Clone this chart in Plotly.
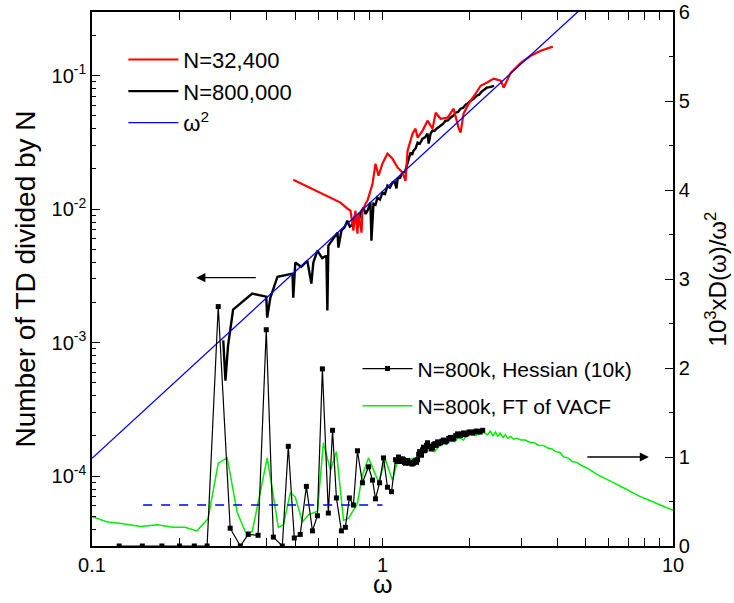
import plotly.graph_objects as go

# ---- N = 800,000 (left axis) ----
omega_800k = [0.283, 0.288, 0.294, 0.306, 0.356, 0.398, 0.401, 0.411, 0.435, 0.462,
              0.490, 0.493, 0.501, 0.525, 0.551, 0.569, 0.578, 0.597, 0.620, 0.641,
              0.646, 0.651, 0.675, 0.700, 0.705, 0.722, 0.740, 0.757, 0.772, 0.788,
              0.807, 0.820, 0.840, 0.860, 0.875, 0.888, 0.909, 0.916, 0.931, 0.946,
              0.961, 0.980, 1.000, 1.020, 1.040, 1.060, 1.082, 1.100, 1.117, 1.127,
              1.150, 1.172, 1.195, 1.220, 1.249, 1.265, 1.279, 1.300, 1.321, 1.345,
              1.374, 1.400, 1.429, 1.442, 1.465, 1.487, 1.510, 1.535, 1.560, 1.585,
              1.615, 1.648, 1.680, 1.714, 1.750, 1.785, 1.820, 1.857, 1.895, 1.932,
              1.970, 2.010, 2.060, 2.110, 2.150, 2.194, 2.240, 2.285, 2.340, 2.420]
td_800k = [1.04e-3, 5.2e-4, 9.5e-4, 1.77e-3, 2.33e-3, 2.21e-3, 1.54e-3, 2.17e-3, 3.12e-3, 3.20e-3,
           3.29e-3, 2.17e-3, 3.98e-3, 3.70e-3, 4.11e-3, 2.77e-3, 3.98e-3, 4.89e-3, 4.30e-3, 4.48e-3,
           1.74e-3, 5.33e-3, 6.00e-3, 6.67e-3, 5.15e-3, 6.90e-3, 7.30e-3, 8.20e-3, 7.40e-3, 7.66e-3,
           9.25e-3, 7.26e-3, 9.41e-3, 1.03e-2, 9.20e-3, 9.75e-3, 1.12e-2, 5.81e-3, 1.10e-2, 1.08e-2,
           1.22e-2, 1.18e-2, 1.33e-2, 1.30e-2, 1.50e-2, 1.45e-2, 1.58e-2, 1.62e-2, 1.43e-2, 1.69e-2,
           1.72e-2, 1.88e-2, 1.90e-2, 2.19e-2, 2.65e-2, 2.55e-2, 2.74e-2, 2.85e-2, 3.15e-2, 3.10e-2,
           3.38e-2, 3.45e-2, 3.68e-2, 3.10e-2, 3.70e-2, 3.88e-2, 3.85e-2, 4.01e-2, 4.10e-2, 4.22e-2,
           4.35e-2, 4.60e-2, 4.62e-2, 4.85e-2, 5.00e-2, 5.28e-2, 5.35e-2, 5.66e-2, 5.75e-2, 6.07e-2,
           6.20e-2, 6.50e-2, 6.70e-2, 7.08e-2, 7.20e-2, 7.59e-2, 7.80e-2, 8.13e-2, 8.20e-2, 8.40e-2]

# ---- N = 32,400 (left axis) ----
omega_32k = [0.493, 0.717, 0.757, 0.776, 0.794, 0.807, 0.820, 0.826, 0.847, 0.853,
             0.874, 0.888, 0.924, 0.946, 0.969, 1.000, 1.040, 1.082, 1.127, 1.172,
             1.200, 1.220, 1.269, 1.299, 1.321, 1.374, 1.429, 1.487, 1.524, 1.585,
             1.675, 1.757, 1.828, 1.857, 1.901, 1.981, 2.080, 2.177, 2.290, 2.413,
             2.553, 2.612, 2.762, 2.992, 3.237, 3.506, 3.857]
td_32k = [1.66e-2, 1.12e-2, 1.01e-2, 9.75e-3, 6.90e-3, 9.75e-3, 6.55e-3, 9.25e-3, 6.67e-3, 9.75e-3,
          1.10e-2, 1.16e-2, 1.55e-2, 2.19e-2, 1.78e-2, 2.20e-2, 2.61e-2, 2.39e-2, 2.05e-2, 1.88e-2,
          1.63e-2, 2.74e-2, 3.68e-2, 4.01e-2, 3.44e-2, 3.88e-2, 4.60e-2, 4.01e-2, 5.28e-2, 4.76e-2,
          4.85e-2, 5.66e-2, 4.07e-2, 3.74e-2, 5.19e-2, 6.17e-2, 7.20e-2, 8.41e-2, 8.90e-2, 9.50e-2,
          9.18e-2, 8.13e-2, 0.105, 0.125, 0.141, 0.154, 0.165]

# ---- omega^2 reference line (left axis) ----
omega_sq = [0.1, 6.0]
td_sq = [1.36e-4, 0.49]

# ---- N = 800k, Hessian (10k), right axis ----
omega_hess = [0.124, 0.149, 0.174, 0.200, 0.225, 0.249, 0.272, 0.299, 0.324, 0.345,
              0.373, 0.398, 0.421, 0.452, 0.474, 0.497, 0.521, 0.547, 0.574, 0.597,
              0.621, 0.651, 0.673, 0.694, 0.722, 0.745, 0.769, 0.794, 0.820, 0.853,
              0.895, 0.924, 0.946, 0.977, 1.008, 1.040, 1.074, 1.109, 1.122, 1.135,
              1.148, 1.160, 1.170, 1.181, 1.190, 1.200, 1.210, 1.220, 1.235, 1.249,
              1.264, 1.279, 1.290, 1.300, 1.310, 1.321, 1.332, 1.342, 1.352, 1.362,
              1.373, 1.384, 1.395, 1.405, 1.417, 1.429, 1.442, 1.455, 1.470, 1.487,
              1.500, 1.515, 1.530, 1.548, 1.566, 1.585, 1.604, 1.623, 1.644, 1.665,
              1.690, 1.714, 1.737, 1.760, 1.786, 1.813, 1.834, 1.855, 1.878, 1.901,
              1.928, 1.955, 1.982, 2.010, 2.040, 2.070, 2.098, 2.126, 2.170, 2.212]
d_hess = [0.0, 0.0, 0.0, 0.0, 0.0, 0.0, 2.69, 0.20, 0.0, 0.13,
          0.12, 2.43, 0.10, 0.0, 1.12, 0.09, 0.13, 0.67, 0.17, 0.34,
          1.99, 0.37, 1.30, 0.54, 0.17, 0.21, 0.54, 0.46, 1.07, 0.71,
          0.89, 0.74, 0.53, 0.71, 0.99, 0.66, 0.61, 0.97, 0.95, 1.00,
          0.96, 0.95, 0.98, 0.97, 0.94, 0.93, 0.96, 0.96, 0.93, 0.94,
          0.92, 0.93, 0.95, 0.96, 0.94, 0.97, 1.03, 1.06, 1.04, 1.02,
          1.08, 1.11, 1.07, 1.08, 1.13, 1.16, 1.12, 1.12, 1.09, 1.10,
          1.14, 1.15, 1.13, 1.17, 1.15, 1.16, 1.18, 1.19, 1.17, 1.18,
          1.21, 1.22, 1.20, 1.21, 1.24, 1.26, 1.24, 1.24, 1.26, 1.27,
          1.25, 1.26, 1.28, 1.28, 1.27, 1.28, 1.29, 1.29, 1.28, 1.30]

# ---- N = 800k, FT of VACF, right axis ----
omega_vacf = [0.100, 0.113, 0.128, 0.147, 0.168, 0.190, 0.209, 0.230, 0.251, 0.272,
              0.292, 0.316, 0.337, 0.356, 0.401, 0.438, 0.456, 0.482, 0.501, 0.530,
              0.556, 0.597, 0.626, 0.662, 0.694, 0.734, 0.764, 0.820, 0.853, 0.895,
              0.969, 1.024, 1.082, 1.135, 1.200, 1.331, 1.406, 1.465, 1.511, 1.610,
              1.660, 1.714, 1.770, 1.828, 1.900, 1.964, 2.090, 2.212, 2.302, 2.350,
              2.400, 2.450, 2.491, 2.540, 2.600, 2.650, 2.700, 2.760, 2.830, 2.910,
              3.000, 3.100, 3.237, 3.330, 3.450, 3.580, 3.707, 3.830, 3.950, 4.080,
              4.208, 4.350, 4.500, 4.650, 4.816, 5.150, 5.508, 5.850, 6.264, 6.700,
              7.165, 7.650, 8.198, 8.750, 9.311, 10.0]
d_vacf = [0.33, 0.27, 0.25, 0.22, 0.24, 0.21, 0.21, 0.17, 0.31, 0.93,
          0.99, 0.38, 0.16, 0.16, 0.99, 0.21, 0.24, 0.60, 0.55, 0.27,
          0.35, 0.39, 1.16, 0.85, 1.06, 0.29, 0.31, 0.48, 0.80, 0.99,
          0.72, 0.97, 0.74, 1.00, 0.96, 1.00, 1.16, 1.08, 1.06, 1.17,
          1.14, 1.20, 1.17, 1.22, 1.19, 1.26, 1.24, 1.28, 1.25, 1.29,
          1.24, 1.28, 1.23, 1.27, 1.22, 1.25, 1.21, 1.23, 1.20, 1.21,
          1.19, 1.19, 1.16, 1.16, 1.13, 1.13, 1.10, 1.09, 1.06, 1.05,
          1.00, 0.99, 0.95, 0.94, 0.91, 0.86, 0.80, 0.76, 0.71, 0.66,
          0.61, 0.56, 0.52, 0.48, 0.44, 0.40]

# ---- dashed level on the right axis ----
omega_level = [0.15, 1.0]
d_level = [0.46, 0.46]

FONT = "Arial, Liberation Sans, sans-serif"

fig = go.Figure()

fig.add_trace(go.Scatter(x=omega_vacf, y=d_vacf, yaxis="y2", mode="lines",
                         line=dict(color="#00ee00", width=1.5),
                         name="N=800k, FT of VACF", legend="legend2",
                         legendrank=2, legendgroup="g5"))
fig.add_trace(go.Scatter(x=omega_hess, y=d_hess, yaxis="y2", mode="lines+markers",
                         line=dict(color="black", width=1.2),
                         marker=dict(symbol="square", size=5, color="black"),
                         name="N=800k, Hessian (10k)", legend="legend2",
                         legendrank=1, legendgroup="g4"))
fig.add_trace(go.Scatter(x=omega_level, y=d_level, yaxis="y2", mode="lines",
                         line=dict(color="#0000ee", width=1.5, dash="dash"),
                         showlegend=False))
fig.add_trace(go.Scatter(x=omega_800k, y=td_800k, mode="lines",
                         line=dict(color="black", width=2.4),
                         name="N=800,000", legendrank=2, legendgroup="g2"))
fig.add_trace(go.Scatter(x=omega_32k, y=td_32k, mode="lines",
                         line=dict(color="#ff0000", width=2.2),
                         name="N=32,400", legendrank=1, legendgroup="g1"))
fig.add_trace(go.Scatter(x=omega_sq, y=td_sq, mode="lines",
                         line=dict(color="#0000ee", width=1.3),
                         name="ω<sup>2</sup>", legendrank=3, legendgroup="g3"))

# minor tick positions (2..9 within each decade)
x_minor = [m * 10.0 ** e for e in (-1, 0) for m in range(2, 10)]
y_minor = [m * 10.0 ** e for e in (-5, -4, -3, -2, -1) for m in range(2, 10)]

axis_common = dict(showline=True, linecolor="black", linewidth=1.5,
                   ticks="inside", ticklen=8, tickwidth=1.3, tickcolor="black",
                   showgrid=False, zeroline=False, automargin=False,
                   tickfont=dict(family=FONT, size=20, color="black"))

fig.update_layout(
    width=734, height=603,
    margin=dict(l=92, r=61, t=12, b=57),
    paper_bgcolor="white", plot_bgcolor="white",
    font=dict(family=FONT, color="black"),
    xaxis=dict(type="log", range=[-1, 1], tickmode="array",
               tickvals=[0.1, 1, 10], ticktext=["0.1", "1", "10"],
               mirror="allticks",
               minor=dict(tickmode="array", tickvals=x_minor, ticks="inside",
                          ticklen=4, tickwidth=1.2, tickcolor="black", showgrid=False),
               **axis_common),
    yaxis=dict(type="log", range=[-4.523, -0.523], tickmode="array",
               tickvals=[1e-4, 1e-3, 1e-2, 1e-1],
               ticktext=["10<sup>-4</sup>", "10<sup>-3</sup>", "10<sup>-2</sup>", "10<sup>-1</sup>"],
               minor=dict(tickmode="array", tickvals=y_minor, ticks="inside",
                          ticklen=4, tickwidth=1.2, tickcolor="black", showgrid=False),
               title=dict(text="Number of TD divided by N",
                          font=dict(family=FONT, size=28), standoff=8),
               **axis_common),
    yaxis2=dict(overlaying="y", side="right", range=[0, 6], tickmode="linear",
                tick0=0, dtick=1,
                minor=dict(dtick=0.5, ticks="inside", ticklen=4, tickwidth=1.2,
                           tickcolor="black", showgrid=False),
                title=dict(text="10<sup>3</sup>xD(ω)/ω<sup>2</sup>",
                           font=dict(family=FONT, size=24), standoff=20),
                **axis_common),
    legend=dict(x=0.054, y=0.95, xanchor="left", yanchor="top",
                bgcolor="rgba(0,0,0,0)", borderwidth=0,
                font=dict(family=FONT, size=22), itemwidth=50,
                tracegroupgap=10, traceorder="normal"),
    legend2=dict(x=0.457, y=0.37, xanchor="left", yanchor="top",
                 bgcolor="rgba(0,0,0,0)", borderwidth=0,
                 font=dict(family=FONT, size=21), itemwidth=50,
                 tracegroupgap=7, traceorder="grouped"),
    showlegend=True,
)

# x-axis title, set close under the tick labels
fig.add_annotation(x=0.5, y=0, xref="paper", yref="paper", text="ω",
                   showarrow=False, xanchor="center", yanchor="top", yshift=-22,
                   font=dict(family=FONT, size=25, color="black"))

# direction arrows: which axis each group of curves belongs to
fig.add_annotation(x=-0.641, y=-2.513, xref="x", yref="y", text="",
                   showarrow=True, ax=61, ay=0, axref="pixel", ayref="pixel",
                   arrowhead=2, arrowsize=1.4, arrowwidth=1.3, arrowcolor="black")
fig.add_annotation(x=0.917, y=1.0, xref="x", yref="y2", text="",
                   showarrow=True, ax=-63, ay=0, axref="pixel", ayref="pixel",
                   arrowhead=2, arrowsize=1.4, arrowwidth=1.3, arrowcolor="black")

fig.write_html("out.html")
